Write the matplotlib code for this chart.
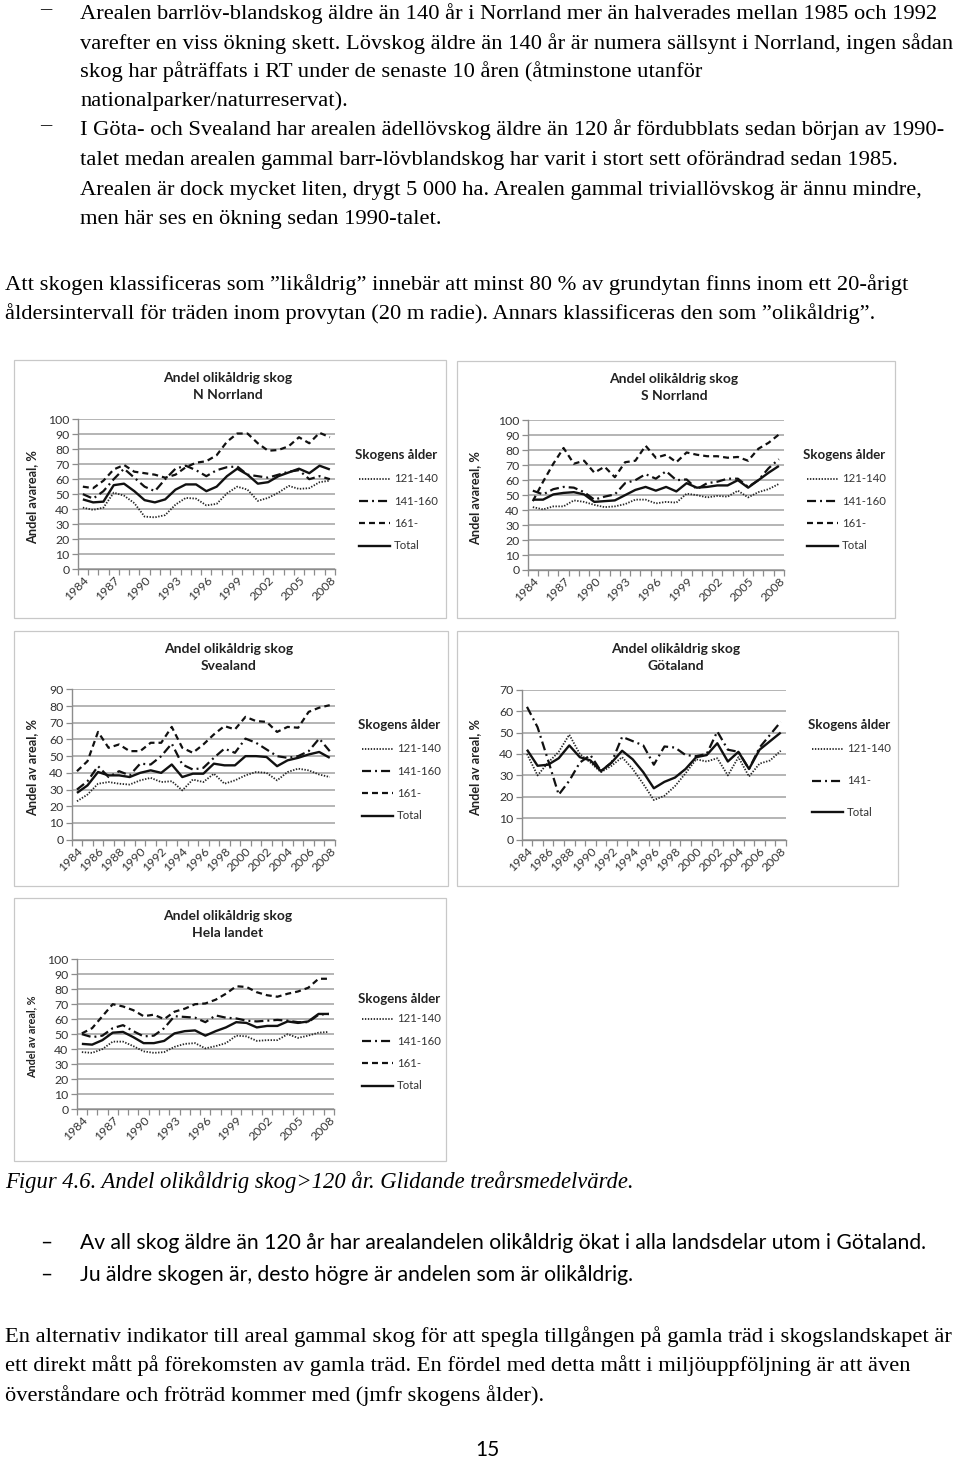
import numpy as np
import matplotlib
matplotlib.use('Agg')
import matplotlib.pyplot as plt
from matplotlib.lines import Line2D
from matplotlib.patches import Rectangle

plt.rcParams['lines.scale_dashes'] = False

# --- data (glidande treårsmedelvärde, %) ---
years = list(range(1984, 2009))

nn_121 = [41, 39.5, 41, 51, 49, 44, 35, 34.5, 36, 43, 47.5, 47, 42.5, 43.5, 50.5, 55, 53, 45.5, 47.5, 51, 55.5, 53.5, 54, 58, 59]
nn_141 = [50, 47, 52, 60, 67, 61, 55, 52, 60, 67, 69, 66, 62, 66, 68, 68.5, 63, 62, 61, 63, 65, 66, 60, 62, 60]
nn_161 = [55, 54, 59, 66.5, 69.5, 65, 64, 63, 61, 63, 68, 71, 72, 76, 85, 90.5, 90.5, 84, 79, 79.5, 82, 88, 84, 91, 88]
nn_tot = [46.5, 44.5, 45, 56, 57, 52, 46, 44.5, 46.5, 53, 56.5, 56.5, 52, 55, 62, 67, 63, 57, 58, 62, 64.5, 67, 64, 69, 66.5]

sn_121 = [42, 40.5, 42.5, 42.5, 46.5, 45.5, 43.5, 42, 42.5, 44, 47, 47, 44.5, 45.5, 45, 51, 50, 48.5, 49.5, 49, 53, 48.5, 52, 54, 57.5]
sn_141 = [53, 50.5, 54, 55.5, 55, 52, 47, 49, 50.5, 58, 60, 64, 61, 66, 60, 60.5, 54, 58, 59, 61, 61, 55.5, 60, 68, 74]
sn_161 = [46, 59, 71, 81.5, 71, 73, 65, 69, 62, 72, 73, 83, 75, 77, 72, 78.5, 77, 76, 76, 75, 75.5, 73, 81, 85, 90.5]
sn_tot = [47, 47, 50.5, 51.5, 52, 50.5, 45.5, 46, 46.5, 50, 53.5, 55.5, 53, 55.5, 52.5, 58, 55, 55.5, 56.5, 56.5, 60, 55, 60, 65, 69.5]

sv_121 = [23, 27, 33.5, 34.5, 33.5, 33, 35.5, 37, 34.5, 35, 29.5, 36, 34.5, 39.5, 33.5, 35.5, 38.5, 40.5, 40, 35.5, 40.5, 42.5, 41.5, 39, 37.5]
sv_141 = [30, 35, 44, 37.5, 41, 38.5, 45.5, 45, 50, 57.5, 45, 42, 43, 49, 54.5, 52, 60.5, 58, 54, 50, 49, 50, 53, 60.5, 53]
sv_161 = [41, 47, 64.5, 55, 57, 53, 53, 58, 58, 67.5, 55, 52, 57, 63, 68, 66, 73.5, 71, 70.5, 64.5, 67.5, 67, 76.5, 79, 80.5]
sv_tot = [28, 32.5, 40.5, 38.5, 38.5, 37.5, 40, 41.5, 40, 45, 37.5, 39.5, 39.5, 45.5, 44.5, 44.5, 50, 50, 49.5, 44, 47.5, 49, 51, 52.5, 49]

go_121 = [40, 30, 36, 41, 49, 40, 36, 31.5, 34.5, 38.5, 33, 26, 18.5, 20.5, 25, 31, 37.5, 36.5, 38, 30, 38.5, 29.5, 35.5, 37, 41.5]
go_141 = [62, 52.5, 37, 21, 27.5, 36, 39.5, 32, 36, 48, 46, 44, 35, 43.5, 43, 39.5, 39, 40, 50.5, 42, 41, 33, 43, 49, 55]
go_tot = [42, 34.5, 35, 38, 44, 38.5, 37, 32, 36, 41.5, 37.5, 31.5, 24, 27, 29, 33, 38.5, 39.5, 45, 36.5, 41, 33, 42, 46, 50]

hl_121 = [38, 37.5, 40, 45, 45, 42, 38.5, 37.5, 38, 41.5, 43.5, 44, 40.5, 42, 44, 49, 48.5, 45.5, 46, 46, 50, 47.5, 49, 51, 51.5]
hl_141 = [50, 48, 49, 54, 56, 52, 48.5, 49, 54, 62, 61.5, 61, 58, 62.5, 61, 60.5, 59, 58.5, 59, 59.5, 59, 58, 58, 63, 63.5]
hl_161 = [50.5, 54, 62, 70, 68.5, 66, 62, 63, 60, 65, 67, 70, 70.5, 73, 77, 82, 81.5, 78, 76, 75, 77, 78.5, 81, 87, 87]
hl_tot = [43.5, 43, 46, 51, 51.5, 48, 44, 44, 45.5, 50.5, 52, 52.5, 49, 52, 54.5, 58, 57.5, 54.5, 55.5, 55.5, 58.5, 57.5, 58.5, 63.5, 63.5]

# --- page ---
W, H = 960, 1460
fig = plt.figure(figsize=(9.6, 14.6), dpi=100)
fig.patch.set_facecolor('white')


def fx(x):
    return x / W


def fy(y):
    return 1 - y / H


SERIF = 'Liberation Serif'
SANS = 'Lato'   # closest thing to Calibri that is installed

styles = {
    'dot': dict(color='#262626', lw=1.3, linestyle=(0, (1.0, 1.1))),
    'dashdot': dict(color='#111111', lw=1.6, linestyle=(0, (6.5, 2.9, 1.4, 2.9))),
    'dash': dict(color='#111111', lw=1.6, linestyle=(0, (4.3, 2.9))),
    'solid': dict(color='#111111', lw=1.7, linestyle='-'),
}


def page_text(x, y, s, size=16.2, family=SERIF, **kw):
    fig.text(fx(x), fy(y), s, fontsize=size, family=family, va='baseline', **kw)


# top text
top_lines = [
    (80, 19, "Arealen barrlöv-blandskog äldre än 140 år i Norrland mer än halverades mellan 1985 och 1992"),
    (80, 49, "varefter en viss ökning skett. Lövskog äldre än 140 år är numera sällsynt i Norrland, ingen sådan"),
    (80, 77, "skog har påträffats i RT under de senaste 10 åren (åtminstone utanför"),
    (80, 106, "nationalparker/naturreservat)."),
    (80, 135, "I Göta- och Svealand har arealen ädellövskog äldre än 120 år fördubblats sedan början av 1990-"),
    (80, 165, "talet medan arealen gammal barr-lövblandskog har varit i stort sett oförändrad sedan 1985."),
    (80, 195, "Arealen är dock mycket liten, drygt 5 000 ha. Arealen gammal triviallövskog är ännu mindre,"),
    (80, 224, "men här ses en ökning sedan 1990-talet."),
    (5, 290, "Att skogen klassificeras som ”likåldrig” innebär att minst 80 % av grundytan finns inom ett 20-årigt"),
    (5, 319, "åldersintervall för träden inom provytan (20 m radie). Annars klassificeras den som ”olikåldrig”."),
]
for x, y, s in top_lines:
    page_text(x, y, s)
page_text(40, 14, "–")
page_text(40, 130, "–")


def draw_chart(box, axpx, title, ylabel, series, ymax, step, leg, ylab_size=9.2):
    l, t, r, b = box
    fig.patches.append(Rectangle((fx(l), fy(b)), (r - l) / W, (b - t) / H,
                                 transform=fig.transFigure, fill=False,
                                 edgecolor='#c8c8c8', lw=0.9))
    al, at, ar, ab = axpx
    ax = fig.add_axes([fx(al), fy(ab), (ar - al) / W, (ab - at) / H])
    x = np.arange(len(years))
    for name, vals, st in series:
        ax.plot(x, vals, **styles[st], solid_capstyle='butt', dash_capstyle='butt')
    ax.set_xlim(-0.5, len(years) - 0.5)
    ax.set_ylim(0, ymax)
    ax.set_yticks(range(0, ymax + 1, 10))
    ax.grid(axis='y', color='#a0a0a0', lw=1.1)
    ax.set_axisbelow(True)
    for s in ['top', 'right']:
        ax.spines[s].set_visible(False)
    for s in ['left', 'bottom']:
        ax.spines[s].set_color('#8c8c8c')
        ax.spines[s].set_linewidth(1.0)
    ax.set_xticks(np.arange(-0.5, len(years), 1), minor=True)
    ax.set_xticks(x[::step])
    ax.set_xticklabels([str(y) for y in years[::step]], rotation=45, ha='right',
                       va='top', rotation_mode='anchor', family=SANS, fontsize=8.8,
                       color='#333333')
    ax.tick_params(axis='x', which='major', length=0, pad=4)
    ax.tick_params(axis='x', which='minor', length=4, color='#8c8c8c', width=0.9)
    ax.tick_params(axis='y', length=4, color='#8c8c8c', width=0.9, pad=2,
                   labelsize=8.8, labelcolor='#333333')
    for lab in ax.get_yticklabels():
        lab.set_family(SANS)

    cx = (l + r) / 2
    fig.text(fx(cx - 2), fy(t + 18), "Andel olikåldrig skog", ha='center', va='center',
             family=SANS, fontweight='bold', fontsize=10, color='#222222')
    fig.text(fx(cx - 2), fy(t + 35), title, ha='center', va='center',
             family=SANS, fontweight='bold', fontsize=10, color='#222222')
    fig.text(fx(l + 18), fy((at + ab) / 2 + 3), ylabel, rotation=90, ha='center',
             va='center', family=SANS, fontweight='bold', fontsize=ylab_size,
             color='#222222')

    lx, ly, first, gap = leg
    fig.text(fx(lx), fy(ly), "Skogens ålder", va='center', family=SANS,
             fontweight='bold', fontsize=9.5, color='#222222')
    for i, (name, vals, st) in enumerate(series):
        yy = ly + first + i * gap
        fig.add_artist(Line2D([fx(lx + 4), fx(lx + 35)], [fy(yy), fy(yy)],
                              transform=fig.transFigure, **styles[st]))
        fig.text(fx(lx + 39), fy(yy), name, va='center', family=SANS,
                 fontsize=8.2, color='#333333')
    return ax


draw_chart((14, 360, 446, 618), (77.7, 419.3, 335, 569), "N Norrland", "Andel avareal, %",
           [("121-140", nn_121, 'dot'), ("141-160", nn_141, 'dashdot'),
            ("161-", nn_161, 'dash'), ("Total", nn_tot, 'solid')],
           100, 3, (355, 455, 24, 22.2))
draw_chart((457, 361, 895, 618), (527.7, 420.3, 784, 570), "S Norrland", "Andel avareal, %",
           [("121-140", sn_121, 'dot'), ("141-160", sn_141, 'dashdot'),
            ("161-", sn_161, 'dash'), ("Total", sn_tot, 'solid')],
           100, 3, (803, 455, 24, 22.2))
draw_chart((14, 631, 448, 886), (71.7, 689.3, 335, 839.7), "Svealand", "Andel av areal, %",
           [("121-140", sv_121, 'dot'), ("141-160", sv_141, 'dashdot'),
            ("161-", sv_161, 'dash'), ("Total", sv_tot, 'solid')],
           90, 2, (358, 725, 24, 22.2))
draw_chart((457, 631, 898, 886), (521.7, 689.7, 786, 839.7), "Götaland", "Andel av areal, %",
           [("121-140", go_121, 'dot'), ("141-", go_141, 'dashdot'),
            ("Total", go_tot, 'solid')],
           70, 2, (808, 725, 24, 31.5))
draw_chart((14, 898, 446, 1161), (76.7, 959.3, 334, 1109), "Hela landet", "Andel av areal, %",
           [("121-140", hl_121, 'dot'), ("141-160", hl_141, 'dashdot'),
            ("161-", hl_161, 'dash'), ("Total", hl_tot, 'solid')],
           100, 3, (358, 999, 20, 22.2), ylab_size=7.8)

# text below the figures
page_text(5, 1188, "Figur 4.6. Andel olikåldrig skog>120 år. Glidande treårsmedelvärde.",
          size=16.3, style='italic')
page_text(40, 1249, "–", size=15, family=SANS)
page_text(40, 1281, "–", size=15, family=SANS)
page_text(80, 1249, "Av all skog äldre än 120 år har arealandelen olikåldrig ökat i alla landsdelar utom i Götaland.",
          size=15.2, family=SANS)
page_text(80, 1281, "Ju äldre skogen är, desto högre är andelen som är olikåldrig.", size=15.2, family=SANS)
page_text(5, 1342, "En alternativ indikator till areal gammal skog för att spegla tillgången på gamla träd i skogslandskapet är")
page_text(5, 1371, "ett direkt mått på förekomsten av gamla träd. En fördel med detta mått i miljöuppföljning är att även")
page_text(5, 1401, "överståndare och fröträd kommer med (jmfr skogens ålder).")
fig.text(fx(487), fy(1456), "15", ha='center', va='baseline', family=SANS, fontsize=15)

fig.savefig('out.png', dpi=100)
